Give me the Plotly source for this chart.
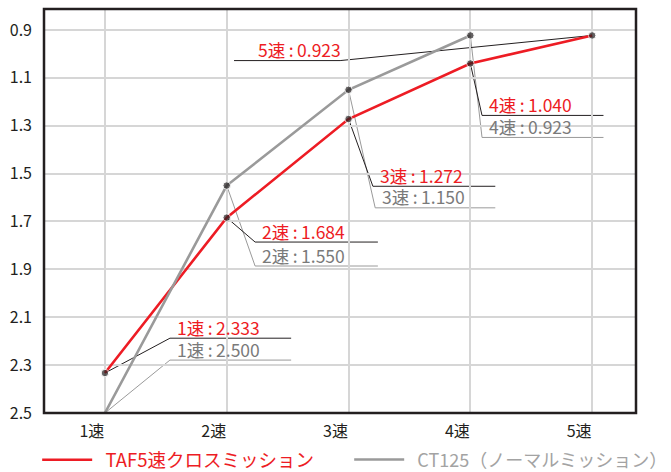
import plotly.graph_objects as go

# ---- data ----
gears = ["1速", "2速", "3速", "4速", "5速"]
taf5_ratio = [2.333, 1.684, 1.272, 1.040, 0.923]
ct125_ratio = [2.500, 1.550, 1.150, 0.923]
y_ticks = [0.9, 1.1, 1.3, 1.5, 1.7, 1.9, 2.1, 2.3, 2.5]
series_names = ["TAF5速クロスミッション", "CT125（ノーマルミッション）"]

RED = "#ed1c24"
GRAY_LINE = "#9a9a9a"
GRAY_TEXT = "#7a7a7a"
LEGEND_GRAY = "#a3a3a3"
DARK = "#231f20"
FONT = "Noto Sans CJK JP"
Y_BOTTOM = 2.5
NB = "\u00a0"

xi_taf = list(range(len(taf5_ratio)))
xi_ct = list(range(len(ct125_ratio)))

fig = go.Figure()
fig.add_trace(go.Scatter(
    x=xi_taf, y=taf5_ratio, mode="lines", legend="legend",
    name=f"<span style='color:{RED}'>{NB*2}{series_names[0]}</span>",
    line=dict(color=RED, width=2.6),
))
fig.add_trace(go.Scatter(
    x=xi_ct, y=ct125_ratio, mode="lines", legend="legend2",
    name=f"<span style='color:{LEGEND_GRAY}'>{NB*2}{series_names[1]}</span>",
    line=dict(color=GRAY_LINE, width=2.6),
))
all_y = ct125_ratio + taf5_ratio
fig.add_trace(go.Scatter(
    x=xi_ct + xi_taf, y=all_y, mode="markers",
    marker=dict(color=DARK, size=[0 if v >= Y_BOTTOM else 7.5 for v in all_y]),
    showlegend=False, hoverinfo="skip",
))

# ---- leader-line label placement (elbow x, elbow y, end x) in axis units ----
label_layout_taf = [
    (0.534, 2.1875, 1.529),
    (1.233, 1.786, 2.241),
    (2.200, 1.553, 3.205),
    (3.096, 1.257, 4.093),
    (1.931, 1.028, 1.060),
]
label_layout_ct = [
    (0.534, 2.279, 1.529),
    (1.233, 1.886, 2.241),
    (2.219, 1.643, 3.205),
    (3.096, 1.349, 4.093),
]

shapes = []
annotations = []

def add_label(i, val, place, color, txtcolor, width):
    ex, ey, endx = place
    shapes.append(dict(
        type="path", xref="x", yref="y",
        path=f"M {i},{val} L {ex},{ey} L {endx},{ey}",
        line=dict(color=color, width=width), layer="below",
    ))
    left = min(ex, endx)
    shift = 22 if endx < ex else 5
    annotations.append(dict(
        x=left, y=ey, xref="x", yref="y", xanchor="left", yanchor="middle",
        xshift=shift, yshift=11, showarrow=False,
        text=f"{gears[i]}\u2009:\u2009{val:.3f}",
        font=dict(family=FONT, size=17.5, color=txtcolor),
    ))

for i, v in enumerate(ct125_ratio):
    add_label(i, v, label_layout_ct[i], GRAY_LINE, GRAY_TEXT, 1)
for i, v in enumerate(taf5_ratio):
    add_label(i, v, label_layout_taf[i], DARK, RED, 1)

# frame
shapes.append(dict(type="rect", xref="paper", yref="paper", x0=0, x1=1, y0=0, y1=1,
                   line=dict(color=DARK, width=2.5), layer="above"))

leg_common = dict(orientation="h", xref="container", xanchor="left",
                  y=-0.07, yanchor="top", itemwidth=50, bgcolor="rgba(0,0,0,0)")

fig.update_layout(
    width=671, height=472,
    margin=dict(l=44, r=35, t=9, b=59, autoexpand=False),
    paper_bgcolor="white", plot_bgcolor="white",
    font=dict(family=FONT, size=16, color=DARK),
    shapes=shapes, annotations=annotations,
    showlegend=True,
    legend=dict(x=0.0554, font=dict(family=FONT, size=18.5), **leg_common),
    legend2=dict(x=0.5204, font=dict(family=FONT, size=18), **leg_common),
)
fig.update_xaxes(
    range=[-0.5, 4.36], tickmode="array", tickvals=xi_taf, ticktext=gears,
    showgrid=True, gridcolor="#d6d6d6", gridwidth=1.5, zeroline=False,
    showline=False, ticks="", ticklabelstandoff=7, ticklabelshift=-13, automargin=False,
    tickfont=dict(family=FONT, size=16, color=DARK),
)
fig.update_yaxes(
    range=[2.5, 0.8125], tickmode="array", tickvals=y_ticks,
    ticktext=[f"{t:.1f}" for t in y_ticks],
    showgrid=True, gridcolor="#d6d6d6", gridwidth=1.5, zeroline=False,
    showline=False, ticks="", ticklabelstandoff=11, automargin=False,
    tickfont=dict(family=FONT, size=16, color=DARK),
)

fig.write_html("out.html", config={"displayModeBar": False},
               post_script="document.body.style.margin='0';document.body.style.padding='0';")
